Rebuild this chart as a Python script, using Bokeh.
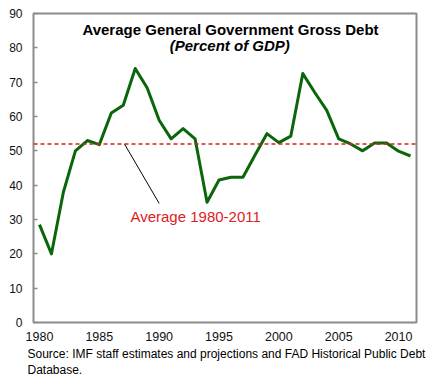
from bokeh.plotting import figure
from bokeh.models import Range1d, Span, Label, FixedTicker, Title
from bokeh.embed import file_html
from bokeh.resources import INLINE

# ---- data ----
years = list(range(1980, 2012))
debt = [28.5, 20.0, 38.0, 50.0, 53.0, 51.8, 61.0, 63.3, 74.0, 68.3,
        58.9, 53.5, 56.5, 53.5, 35.0, 41.5, 42.3, 42.3, 48.7, 55.0,
        52.4, 54.3, 72.5, 67.0, 61.8, 53.5, 52.0, 50.0, 52.3, 52.3,
        49.9, 48.5]
average_1980_2011 = 52.0
y_ticks = [0, 10, 20, 30, 40, 50, 60, 70, 80, 90]
x_ticks = [1980, 1985, 1990, 1995, 2000, 2005, 2010]
note_x = [1987.1, 1990.0]
note_y = [52.0, 34.7]

title_text = "Average General Government Gross Debt"
subtitle_text = "(Percent of GDP)"
note_text = "Average 1980-2011"
source_lines = ["Source: IMF staff estimates and projections and FAD Historical Public Debt",
                "Database."]

FONT = "Liberation Sans"

p = figure(width=439, height=380, output_backend="svg", toolbar_location=None,
           x_range=Range1d(1979.5, 2011.5), y_range=Range1d(0, 90),
           min_border_left=33, min_border_right=23, min_border_top=13,
           min_border_bottom=58)
p.background_fill_color = "white"
p.border_fill_color = "white"
p.outline_line_color = "#8c8c8c"
p.outline_line_width = 2
p.xgrid.visible = False
p.ygrid.visible = False

ya = p.yaxis[0]
ya.ticker = FixedTicker(ticks=y_ticks)
ya.axis_line_color = None
ya.major_tick_in = 4
ya.major_tick_out = 0
ya.major_tick_line_color = "#8c8c8c"
ya.major_tick_line_width = 1.5
ya.minor_tick_line_color = None
ya.major_label_text_font = FONT
ya.major_label_text_font_size = "12px"
ya.major_label_text_color = "#111111"
ya.major_label_standoff = 11

xa = p.xaxis[0]
xa.ticker = FixedTicker(ticks=x_ticks)
xa.axis_line_color = None
xa.major_tick_in = 0
xa.major_tick_out = 0
xa.minor_tick_line_color = None
xa.major_label_text_font = FONT
xa.major_label_text_font_size = "12.5px"
xa.major_label_text_color = "#111111"
xa.major_label_standoff = 9

p.add_layout(Span(location=average_1980_2011, dimension="width",
                  line_color="#d42020", line_dash="4 3", line_width=1.5))
p.line(note_x, note_y, line_color="black", line_width=1)
p.line(years, debt, line_color="#0a660a", line_width=3, line_join="round")

p.add_layout(Label(x=1995.96, y=85.4, text=title_text, text_font=FONT,
                   text_font_size="15px", text_font_style="bold",
                   text_align="center", text_baseline="middle", text_color="black"))
p.add_layout(Label(x=1995.9, y=80.8, text=subtitle_text, text_font=FONT,
                   text_font_size="15px", text_font_style="bold italic",
                   text_align="center", text_baseline="middle", text_color="black"))
p.add_layout(Label(x=1987.6, y=31.0, text=note_text, text_font=FONT,
                   text_font_size="15px", text_align="left",
                   text_baseline="middle", text_color="#e0201c"))

p.add_layout(Title(text="\n".join(source_lines), align="left", offset=-6, standoff=4,
                   padding=0, text_font=FONT, text_font_size="12px",
                   text_font_style="normal", text_line_height=1.15,
                   text_color="black"), "below")

open("out.html", "w").write(file_html(p, INLINE))
